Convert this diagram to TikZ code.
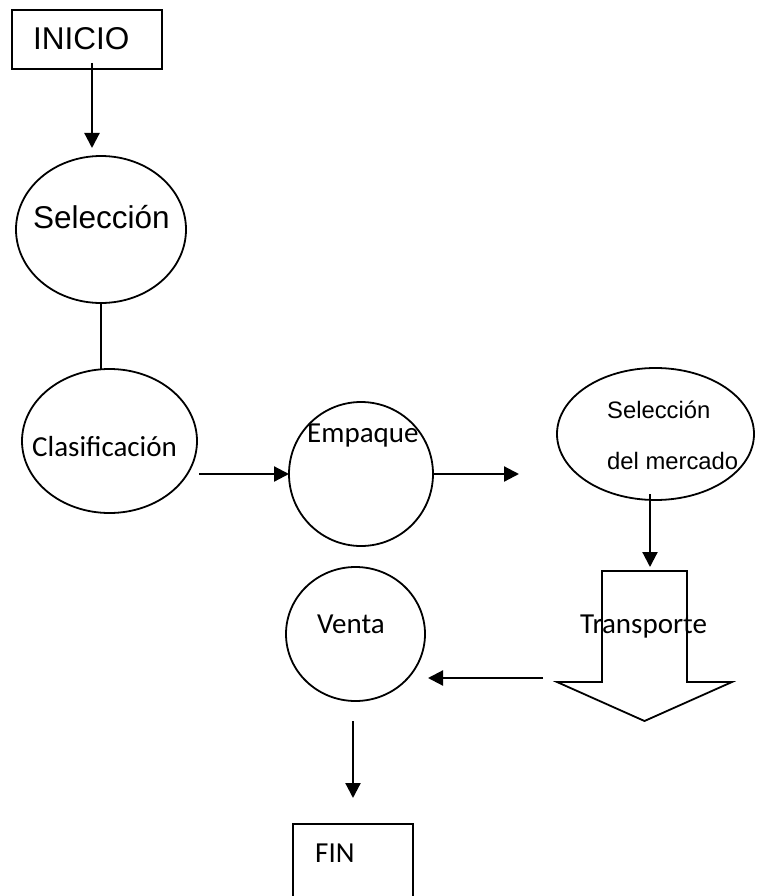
\documentclass[tikz,border=0pt]{standalone}
\usepackage{fontspec}
\newfontfamily\arialfont{Liberation Sans}
\newfontfamily\calfont{Carlito}
\usetikzlibrary{arrows.meta,shapes.geometric,calc}

\begin{document}
\begin{tikzpicture}[x=1pt,y=-1pt,
  shapeline/.style={draw=black,line width=1.8pt},
  boxnode/.style={shapeline,rectangle,inner sep=0pt,outer sep=0pt},
  ovalnode/.style={shapeline,ellipse,inner sep=0pt,outer sep=0pt},
  txt/.style={anchor=base west,inner sep=0pt,text=black},
  bigarial/.style={font=\arialfont\fontsize{31.5}{36}\selectfont},
  smallarial/.style={font=\arialfont\fontsize{23.8}{28}\selectfont},
  calib/.style={font=\calfont\fontsize{29}{34}\selectfont},
  flow/.style={line width=2.2pt,-{Triangle[length=15pt,width=15pt]}},
  link/.style={line width=2.2pt}
]
\clip (0,0) rectangle (756,896);
\fill[white] (0,0) rectangle (756,896);

% process shapes
\node[boxnode,minimum width=150pt,minimum height=59pt] (inicio) at (87,39.5) {};
\node[ovalnode,minimum width=170pt,minimum height=147pt] (sel) at (101,229.5) {};
\node[ovalnode,minimum width=175pt,minimum height=144pt] (clas) at (109.5,441) {};
\node[ovalnode,minimum width=144pt,minimum height=144pt] (emp) at (361,474) {};
\node[ovalnode,minimum width=197pt,minimum height=132pt] (merc) at (655.5,434) {};
\node[rectangle,inner sep=0pt,outer sep=0pt,minimum width=85pt,minimum height=111pt] (trans) at (644.5,626.5) {};
\draw[shapeline,line join=miter]
  (trans.north west) -- (trans.north east) -- (trans.south east)
  -- ($(trans.south east)+(45,0)$) -- ($(trans.south)+(0,39)$)
  -- ($(trans.south west)+(-45,0)$) -- (trans.south west) -- cycle;
\node[ovalnode,minimum width=139pt,minimum height=134pt] (venta) at (355.5,634) {};
\node[boxnode,minimum width=120pt,minimum height=90pt] (fin) at (353,869) {};

% labels
\node[txt,bigarial] (tInicio) at (33,50) {INICIO};
\node[txt,bigarial] (tSel) at (33,228) {Selección};
\node[txt,calib] (tClas) at (32,456) {Clasificación};
\node[txt,calib] (tEmp) at (307,442) {Empaque};
\node[txt,smallarial] (tMerc1) at (607,418) {Selección};
\node[txt,smallarial] (tMerc2) at (607,469) {del mercado};
\node[txt,calib] (tTrans) at (580,633) {Transporte};
\node[txt,calib] (tVenta) at (317,633) {Venta};
\node[txt,calib] (tFin) at (315,862) {FIN};

% connectors
\coordinate (a1s) at (92,63);
\coordinate (a1e) at (92,148);
\draw[flow] (a1s) -- (a1e);
\draw[link] (sel.south) -- (sel.south |- clas.north);
\coordinate (a2s) at (199,474);
\draw[flow] (a2s) -- (emp.west);
\coordinate (a3e) at (519,474);
\draw[flow] (emp.east) -- (a3e);
\coordinate (a4s) at (650,494);
\coordinate (a4e) at (650,567);
\draw[flow] (a4s) -- (a4e);
\coordinate (a5s) at (543,678);
\coordinate (a5e) at (428,678);
\draw[flow] (a5s) -- (a5e);
\coordinate (a6s) at (353,721);
\coordinate (a6e) at (353,798);
\draw[flow] (a6s) -- (a6e);
\end{tikzpicture}
\end{document}
